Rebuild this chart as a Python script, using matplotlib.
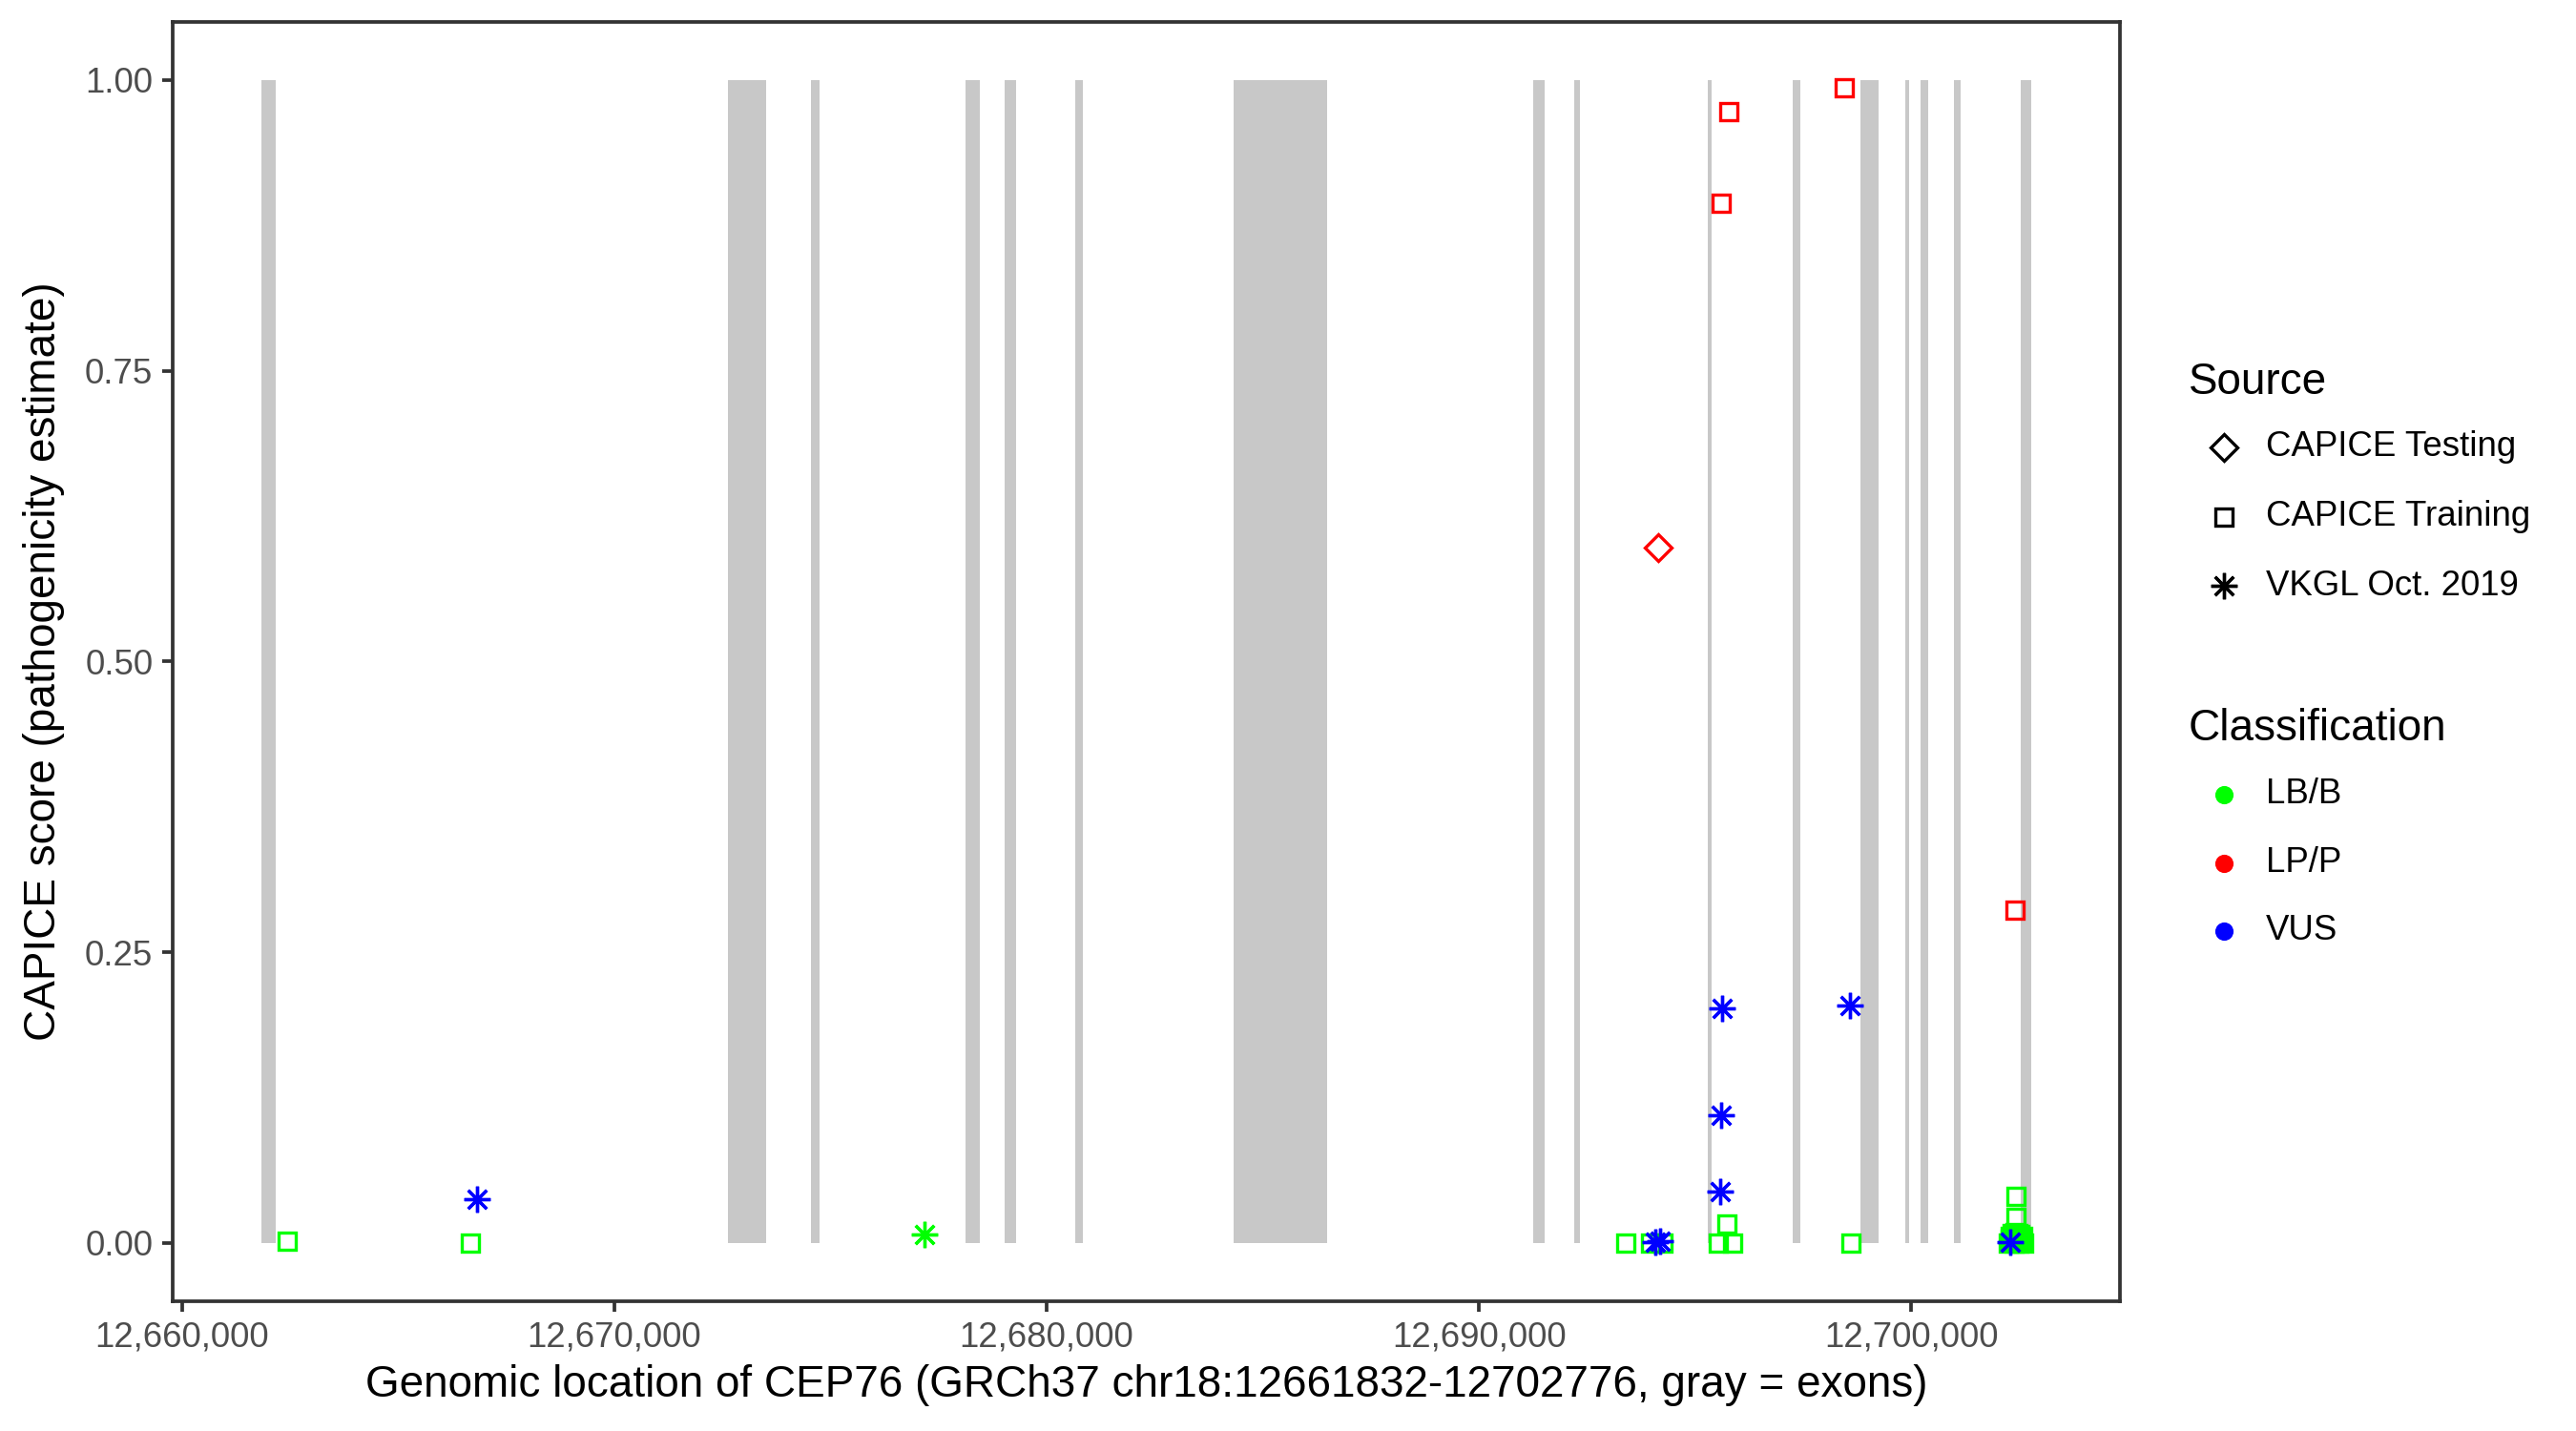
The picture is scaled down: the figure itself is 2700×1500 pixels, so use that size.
import matplotlib
matplotlib.use("Agg")
import matplotlib.pyplot as plt
from matplotlib.lines import Line2D
from matplotlib.ticker import FuncFormatter, MultipleLocator

plt.rcParams['font.family'] = ['Liberation Sans', 'DejaVu Sans']

# gene / exon coordinates (GRCh37 chr18)
gene_start = 12661832
gene_end = 12702776
exon_starts = [12661832, 12672636, 12674557, 12678133, 12679039, 12680673,
               12684316, 12691249, 12692198, 12695290, 12697255, 12698822,
               12699860, 12700213, 12700986, 12702532]
exon_ends = [12662170, 12673519, 12674755, 12678465, 12679304, 12680849,
             12686480, 12691514, 12692331, 12695378, 12697431, 12699242,
             12699949, 12700390, 12701141, 12702776]

# variants: position, CAPICE score, source, classification
pos = [12662427, 12666663, 12693400, 12693973, 12694260, 12695540, 12695738,
       12695870, 12698606, 12702420, 12702420,
       12702240, 12702300, 12702350, 12702400, 12702440, 12702480, 12702520,
       12702560, 12702600, 12702280, 12702380, 12702460, 12702540, 12702330,
       12702580, 12702420,
       12695605, 12695782, 12698451, 12702410,
       12694150,
       12677185,
       12666817, 12694083, 12694193, 12695580, 12695600, 12695630, 12698584,
       12702290]
score = [0.002, 0.000, 0.000, 0.000, 0.000, 0.000, 0.016,
         0.000, 0.000, 0.040, 0.022,
         0.000, 0.006, 0.002, 0.009, 0.004, 0.000, 0.007,
         0.003, 0.000, 0.003, 0.000, 0.008, 0.001, 0.008,
         0.006, 0.002,
         0.894, 0.973, 0.993, 0.286,
         0.598,
         0.007,
         0.038, 0.001, 0.002, 0.044, 0.110, 0.202, 0.204,
         0.001]
source = (['CAPICE Training'] * 27 + ['CAPICE Training'] * 4 +
          ['CAPICE Testing'] + ['VKGL Oct. 2019'] * 9)
classification = (['LB/B'] * 27 + ['LP/P'] * 4 + ['LP/P'] + ['LB/B'] +
                  ['VUS'] * 8)

sources = ['CAPICE Testing', 'CAPICE Training', 'VKGL Oct. 2019']
classes = ['LB/B', 'LP/P', 'VUS']
class_colors = {'LB/B': '#00FF00', 'LP/P': '#FF0000', 'VUS': '#0000FF'}
source_markers = {'CAPICE Testing': ('D', 4.6),
                  'CAPICE Training': ('s', 4.1),
                  'VKGL Oct. 2019': ((8, 2, 0), 6.6)}

fig = plt.figure(figsize=(9, 5), dpi=300)
ax = fig.add_axes([0.067, 0.0907, 0.7559, 0.894])

widths = [e - s for s, e in zip(exon_starts, exon_ends)]
ax.bar(exon_starts, 1.0, width=widths, bottom=0, align='edge',
       color='#C8C8C8', linewidth=0, zorder=1)

for cl in classes:
    for src in sources:
        xs = [p for p, s, c, r in zip(pos, score, classification, source) if c == cl and r == src]
        ys = [s for p, s, c, r in zip(pos, score, classification, source) if c == cl and r == src]
        if not xs:
            continue
        m, ms = source_markers[src]
        ax.plot(xs, ys, linestyle='none', marker=m, markersize=ms,
                markerfacecolor='none', markeredgecolor=class_colors[cl],
                markeredgewidth=0.8, zorder=3)

span = gene_end - gene_start
ax.set_xlim(gene_start - 0.05 * span, gene_end + 0.05 * span)
ax.set_ylim(-0.05, 1.05)
ax.xaxis.set_major_locator(MultipleLocator(10000))
ax.xaxis.set_major_formatter(FuncFormatter(lambda v, p: '{:,.0f}'.format(v)))
ax.yaxis.set_major_locator(MultipleLocator(0.25))
ax.yaxis.set_major_formatter(FuncFormatter(lambda v, p: '{:.2f}'.format(v)))

for sp in ax.spines.values():
    sp.set_color('#333333')
    sp.set_linewidth(0.9)
ax.tick_params(length=2.75, width=0.9, color='#333333', labelsize=8.8,
               labelcolor='#4D4D4D', pad=2.2)

ax.set_xlabel('Genomic location of CEP76 (GRCh37 chr18:12661832-12702776, gray = exons)',
              fontsize=11, labelpad=2.5)
ax.set_ylabel('CAPICE score (pathogenicity estimate)', fontsize=11, labelpad=5)

# legends drawn by hand in figure pixels
W, H = 2700.0, 1500.0


def fx(x):
    return x / W


def fy(y):
    return 1 - y / H


fig.text(fx(2294), fy(401), 'Source', fontsize=11, va='center', ha='left')
for i, src in enumerate(sources):
    y = 469 + i * 72.5
    m, ms = source_markers[src]
    fig.add_artist(Line2D([fx(2331)], [fy(y)], transform=fig.transFigure,
                          linestyle='none', marker=m, markersize=ms,
                          markerfacecolor='none', markeredgecolor='black',
                          markeredgewidth=0.8))
    fig.text(fx(2375), fy(y), src, fontsize=8.8, va='center', ha='left')

fig.text(fx(2294), fy(764), 'Classification', fontsize=11, va='center', ha='left')
for i, cl in enumerate(classes):
    y = 833 + i * 71.5
    fig.add_artist(Line2D([fx(2331)], [fy(y)], transform=fig.transFigure,
                          linestyle='none', marker='o', markersize=4.6,
                          markerfacecolor=class_colors[cl],
                          markeredgecolor='none'))
    fig.text(fx(2375), fy(y), cl, fontsize=8.8, va='center', ha='left')

fig.savefig('out.png', dpi=300)
